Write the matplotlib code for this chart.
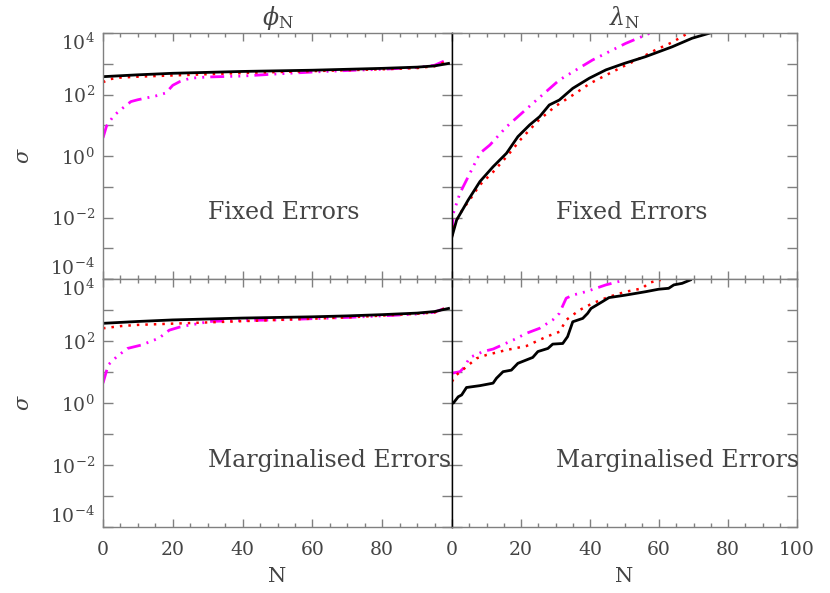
import numpy as np
import matplotlib
matplotlib.use('Agg')
import matplotlib.pyplot as plt
from matplotlib.ticker import FixedLocator, FuncFormatter, MultipleLocator

plt.rcParams['font.family'] = ['DejaVu Serif']
plt.rcParams['mathtext.fontset'] = 'dejavuserif'

# values: N and log10(sigma)
phi_fix_black_N = [0, 5, 10, 20, 30, 40, 50, 60, 70, 80, 90, 95, 99]
phi_fix_black = [2.58, 2.61, 2.64, 2.69, 2.72, 2.75, 2.77, 2.79, 2.82, 2.85, 2.89, 2.93, 3.01]
phi_fix_red_N = [0, 2, 5, 10, 20, 30, 40, 50, 60, 70, 80, 90, 95, 99]
phi_fix_red = [2.40, 2.50, 2.55, 2.58, 2.62, 2.66, 2.70, 2.73, 2.76, 2.79, 2.82, 2.86, 2.92, 3.10]
phi_fix_mag_N = [0, 1, 3, 5, 8, 10, 15, 18, 20, 22, 25, 30, 40, 50, 60, 70, 80, 90, 95, 99]
phi_fix_mag = [0.59, 0.97, 1.3, 1.5, 1.77, 1.83, 1.95, 2.05, 2.30, 2.42, 2.53, 2.57, 2.60, 2.67,
               2.73, 2.78, 2.82, 2.88, 2.95, 3.15]

lam_fix_black_N = [0, 1.35, 4.7, 8.1, 11.9, 15.8, 19.1, 22.5, 25.4, 28.2, 31.1, 35, 39.8, 44.6,
                   49.9, 56.1, 63.8, 69.6, 74.8]
lam_fix_black = [-2.62, -2.08, -1.43, -0.83, -0.35, 0.09, 0.63, 1.01, 1.28, 1.66, 1.82, 2.2, 2.53,
                 2.8, 3.01, 3.23, 3.55, 3.83, 4.0]
lam_fix_red_N = [0, 1, 3, 5, 8, 12, 16, 20, 25, 30, 35, 40, 45, 49.4, 54, 59, 63.7, 68.5]
lam_fix_red = [-2.6, -2.15, -1.75, -1.45, -0.95, -0.51, 0.0, 0.55, 1.15, 1.62, 1.98, 2.36, 2.65,
               2.9, 3.15, 3.45, 3.69, 4.0]
lam_fix_mag_N = [0, 0.4, 2.3, 5.2, 8.1, 11, 15.8, 23.4, 31.1, 40.7, 50.3, 57.5]
lam_fix_mag = [-2.5, -1.86, -1.21, -0.56, 0.09, 0.36, 0.95, 1.71, 2.47, 3.12, 3.66, 4.0]

phi_marg_black_N = [0, 10, 20, 30, 40, 50, 60, 70, 80, 90, 95, 99]
phi_marg_black = [2.57, 2.63, 2.68, 2.71, 2.74, 2.76, 2.78, 2.81, 2.85, 2.90, 2.95, 3.05]
phi_marg_red_N = [0, 5, 10, 20, 30, 40, 50, 60, 70, 80, 90, 95, 99]
phi_marg_red = [2.41, 2.48, 2.52, 2.56, 2.60, 2.64, 2.68, 2.72, 2.76, 2.82, 2.88, 2.92, 3.10]
phi_marg_mag_N = [0, 1.5, 4, 7, 11, 16, 19, 22, 25, 28, 30, 40, 50, 60, 70, 80, 90, 95, 99]
phi_marg_mag = [0.64, 1.23, 1.5, 1.76, 1.87, 2.09, 2.35, 2.45, 2.52, 2.57, 2.63, 2.66, 2.68, 2.72,
                2.76, 2.81, 2.87, 2.93, 3.10]

lam_marg_black_N = [0, 0.4, 1.8, 2.8, 4.2, 8.1, 11.9, 12.9, 14.8, 17.2, 19.1, 23.4, 24.9, 27.8,
                    29.2, 32.1, 33.5, 35, 37.9, 39.3, 40.3, 43.6, 45.5, 50.3, 56.1, 59.9, 62.8,
                    64.3, 66.7, 69.1]
lam_marg_black = [0.0, 0.0, 0.2, 0.26, 0.5, 0.56, 0.64, 0.8, 1.01, 1.06, 1.28, 1.47, 1.66, 1.76,
                  1.9, 1.92, 2.14, 2.62, 2.73, 2.89, 3.05, 3.27, 3.4, 3.48, 3.59, 3.67, 3.7,
                  3.81, 3.86, 3.97]
lam_marg_red_N = [0, 0.9, 4.2, 7.1, 10, 15.8, 21.6, 27.4, 31.2, 33.1, 37, 40.8, 45.6, 50.4, 55.2,
                  57.1, 60.5]
lam_marg_red = [0.69, 0.87, 1.17, 1.44, 1.55, 1.71, 1.84, 2.14, 2.3, 2.68, 3.0, 3.22, 3.43, 3.59,
                3.7, 3.88, 3.97]
lam_marg_mag_N = [0, 2.3, 3.3, 5.2, 9, 11.9, 17.7, 21.6, 25.4, 29.2, 31.1, 33.1, 35, 38.8, 44.6,
                  49.4]
lam_marg_mag = [0.96, 1.01, 1.12, 1.47, 1.66, 1.74, 2.03, 2.25, 2.41, 2.68, 2.89, 3.38, 3.48,
                3.59, 3.81, 3.95]

titles = [r'$\phi_{\rm N}$', r'$\lambda_{\rm N}$']
labels = ['Fixed Errors', 'Marginalised Errors']

panels = [
    [(phi_fix_black_N, phi_fix_black, phi_fix_red_N, phi_fix_red, phi_fix_mag_N, phi_fix_mag),
     (lam_fix_black_N, lam_fix_black, lam_fix_red_N, lam_fix_red, lam_fix_mag_N, lam_fix_mag)],
    [(phi_marg_black_N, phi_marg_black, phi_marg_red_N, phi_marg_red, phi_marg_mag_N, phi_marg_mag),
     (lam_marg_black_N, lam_marg_black, lam_marg_red_N, lam_marg_red, lam_marg_mag_N, lam_marg_mag)],
]

txt = '#444444'
frame = '#808080'

fig = plt.figure(figsize=(8.3, 5.93), dpi=100)
W, H = 830.0, 593.0
xs = [(103, 452), (452, 797)]
ys = [(33, 279), (279, 527)]


def exp_label(v, pos):
    e = int(round(np.log10(v)))
    if e % 2:
        return ''
    return r'$10^{%d}$' % e


for r in range(2):
    for c in range(2):
        x0, x1 = xs[c]
        y0, y1 = ys[r]
        ax = fig.add_axes([x0 / W, 1 - y1 / H, (x1 - x0) / W, (y1 - y0) / H])
        bN, b, rN, rd, mN, m = panels[r][c]
        ax.plot(mN, 10 ** np.array(m), color='#ff00ff', lw=2.0,
                linestyle=(0, (5, 2.2, 0.7, 2.2, 0.7, 2.2, 0.7, 2.2)))
        ax.plot(rN, 10 ** np.array(rd), color='#ff0000', lw=1.8, linestyle=(0, (1, 2.4)))
        ax.plot(bN, 10 ** np.array(b), color='black', lw=2.0)

        ax.set_yscale('log')
        ax.set_xlim(0, 100)
        ax.set_ylim(1e-4, 1e4)
        ax.yaxis.set_major_locator(FixedLocator(10.0 ** np.arange(-4, 5)))
        ax.yaxis.set_minor_locator(FixedLocator([]))
        ax.xaxis.set_major_locator(MultipleLocator(20))
        ax.xaxis.set_minor_locator(MultipleLocator(5))
        ax.tick_params(which='both', direction='in', top=True, right=True,
                       colors=frame, labelcolor=txt, labelsize=13.5, width=1)
        ax.tick_params(axis='y', which='major', length=7, pad=6)
        ax.tick_params(axis='x', which='major', length=6, pad=10)
        ax.tick_params(axis='x', which='minor', length=3)
        for s in ax.spines.values():
            s.set_color(frame)
            s.set_linewidth(1)
        if c == 0:
            ax.spines['right'].set_color('black')
            ax.yaxis.set_major_formatter(FuncFormatter(exp_label))
            ax.set_ylabel(r'$\sigma$', fontsize=15, color=txt, labelpad=12)
            ticks = ax.yaxis.get_major_ticks()
            ticks[0].label1.set_va('bottom')
            ticks[-1].label1.set_va('top')
        else:
            ax.spines['left'].set_color('black')
            ax.set_yticklabels([])
        if r == 0:
            ax.set_xticklabels([])
            ax.set_title(titles[c], fontsize=17, color=txt, pad=6)
        else:
            if c == 0:
                ax.xaxis.set_major_formatter(FuncFormatter(
                    lambda v, p: '' if v >= 100 else '%d' % v))
            ax.set_xlabel('N', fontsize=15, color=txt, labelpad=6)
        ax.text(30, 10 ** -2.05, labels[r], fontsize=17, color=txt, ha='left', va='baseline')

fig.savefig('out.png', dpi=100)
